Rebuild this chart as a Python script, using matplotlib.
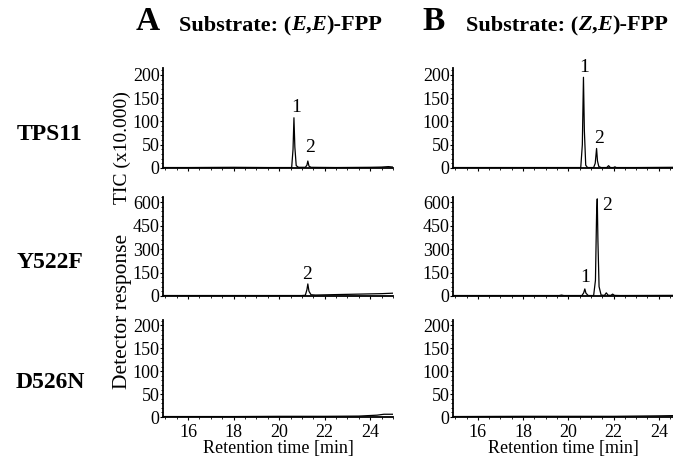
import numpy as np
import matplotlib
matplotlib.use("Agg")
import matplotlib.pyplot as plt
from matplotlib.text import Annotation
from matplotlib.ticker import MultipleLocator

plt.rcParams['font.family'] = ['Liberation Serif', 'DejaVu Serif']

# retention time [min] / detector response (x10,000)
a_tps11_t = [14.9, 16.0, 18.0, 19.5, 20.55, 20.61, 20.65, 20.69, 20.75, 20.85, 21.15, 21.22, 21.26, 21.31, 21.4, 22.5, 24.0, 24.5, 24.8, 25.0]
a_tps11_y = [1, 1, 1.5, 1, 1, 40, 108, 45, 5, 1.5, 1.5, 6, 15, 4, 1.5, 1, 1.5, 2, 3, 2]

a_y522f_t = [14.9, 17.0, 19.0, 20.5, 21.0, 21.15, 21.22, 21.26, 21.31, 21.4, 21.6, 22.5, 23.5, 24.5, 25.0]
a_y522f_y = [3, 3, 3, 3, 3, 5, 40, 77, 30, 8, 6, 9, 12, 15, 18]

a_d526n_t = [14.9, 18.0, 20.0, 22.0, 23.5, 24.3, 24.6, 25.0]
a_d526n_y = [1, 1, 1.5, 1.5, 2, 4, 6, 6]

b_tps11_t = [14.9, 17.0, 19.5, 20.55, 20.62, 20.67, 20.71, 20.77, 20.85, 21.12, 21.19, 21.25, 21.29, 21.35, 21.45,
             21.7, 21.78, 21.86, 22.0, 22.06, 22.12, 23.0, 24.63]
b_tps11_y = [1, 1, 1, 1, 50, 195, 80, 6, 1, 1, 10, 42, 15, 3, 1, 1, 5, 1, 1, 2.5, 1, 1, 1.5]

b_y522f_t = [14.9, 17.0, 19.6, 19.7, 19.8, 20.6, 20.68, 20.73, 20.78, 20.88, 21.12, 21.2, 21.25, 21.28, 21.31, 21.36,
             21.45, 21.6, 21.68, 21.76, 21.88, 21.96, 22.04, 22.3, 24.63]
b_y522f_y = [3, 3, 3, 6, 3, 3, 20, 45, 18, 3, 3, 100, 520, 620, 350, 60, 6, 4, 20, 5, 4, 12, 4, 3, 4]

b_d526n_t = [14.9, 18.0, 20.0, 22.0, 24.0, 24.63]
b_d526n_y = [1, 1.5, 1.5, 1.5, 2.5, 3]

row_names = ['TPS11', 'Y522F', 'D526N']
row_ticks = [[0, 50, 100, 150, 200], [0, 150, 300, 450, 600], [0, 50, 100, 150, 200]]
row_ylim = [215, 632, 212]
x_ticks = [16, 18, 20, 22, 24]

# peak labels: (column, row, text, time, response)
peak_labels = [
    (0, 0, '1', 20.76, 129), (0, 0, '2', 21.37, 43),
    (1, 0, '1', 20.69, 215), (1, 0, '2', 21.36, 64),
    (0, 1, '2', 21.24, 140),
    (1, 1, '2', 21.71, 580), (1, 1, '1', 20.74, 115),
]

traces = [[(a_tps11_t, a_tps11_y), (b_tps11_t, b_tps11_y)],
          [(a_y522f_t, a_y522f_y), (b_y522f_t, b_y522f_y)],
          [(a_d526n_t, a_d526n_y), (b_d526n_t, b_d526n_y)]]

W, H = 673, 457
fig = plt.figure(figsize=(W / 100, H / 100), dpi=100)

# axes boxes in pixels: (left, right) per column, (top, bottom) per row
cols_px = [(163, 393), (453, 673)]
col_xlim = [(14.9, 25.0), (14.9, 24.63)]
rows_px = [(68, 168), (197, 296), (320, 417)]

axes = [[None, None] for _ in range(3)]
for r in range(3):
    for c in range(2):
        l, rr = cols_px[c]
        t, b = rows_px[r]
        ax = fig.add_axes([l / W, 1 - b / H, (rr - l) / W, (b - t) / H])
        axes[r][c] = ax
        tt, yy = traces[r][c]
        ax.plot(tt, yy, color='black', lw=0.9)
        ax.set_xlim(*col_xlim[c])
        ax.set_ylim(0, row_ylim[r])
        ax.set_yticks(row_ticks[r])
        ax.set_xticks(x_ticks)
        ax.xaxis.set_minor_locator(MultipleLocator(0.5))
        ax.yaxis.set_minor_locator(MultipleLocator(row_ticks[r][1] / 5))
        for s in ['top', 'right']:
            ax.spines[s].set_visible(False)
        for s in ['left', 'bottom']:
            ax.spines[s].set_linewidth(1.3)
        ax.tick_params(axis='both', which='major', direction='out', length=2, width=0.8,
                       labelsize=13, pad=0.5)
        ax.tick_params(axis='x', which='major', pad=3)
        ax.tick_params(axis='both', which='minor', direction='out', length=1.2, width=0.6)
        if r < 2:
            ax.tick_params(axis='x', labelbottom=False)
        else:
            ax.set_xlabel('Retention time [min]', fontsize=13, labelpad=-1)

for c, r, txt, x, y in peak_labels:
    axes[r][c].text(x, y, txt, fontsize=14, ha='center', va='center', clip_on=False)

# row labels
for r, name in enumerate(row_names):
    fig.text(50 / W, 1 - [134, 262, 383][r] / H, name, fontsize=17, fontweight='bold',
             ha='center', va='center')

# y axis label
fig.text(122 / W, 1 - 148 / H, 'TIC (x10.000)', rotation=90, fontsize=14, ha='center', va='center')
fig.text(122 / W, 1 - 311 / H, 'Detector response', rotation=90, fontsize=15.5, ha='center', va='center')


# panel titles: letter plus "Substrate: (X,Y)-FPP" with italic isomer letters
def title(x_letter, letter, x_text, iso):
    fig.text(x_letter / W, 1 - 22 / H, letter, fontsize=24, fontweight='bold', ha='center', va='center')
    prev = fig.text(x_text / W, 1 - 35 / H, 'Substrate: (', fontsize=16, fontweight='bold', va='bottom')
    for piece, st in [(iso[0], 'italic'), (',', 'normal'), (iso[1], 'italic'), (')-FPP', 'normal')]:
        prev = fig.add_artist(Annotation(piece, xy=(1, 0), xycoords=prev, va='bottom',
                                         fontsize=16, fontweight='bold', style=st))


title(148, 'A', 179, ('E', 'E'))
title(434, 'B', 466, ('Z', 'E'))

plt.savefig('out.png', dpi=100)
